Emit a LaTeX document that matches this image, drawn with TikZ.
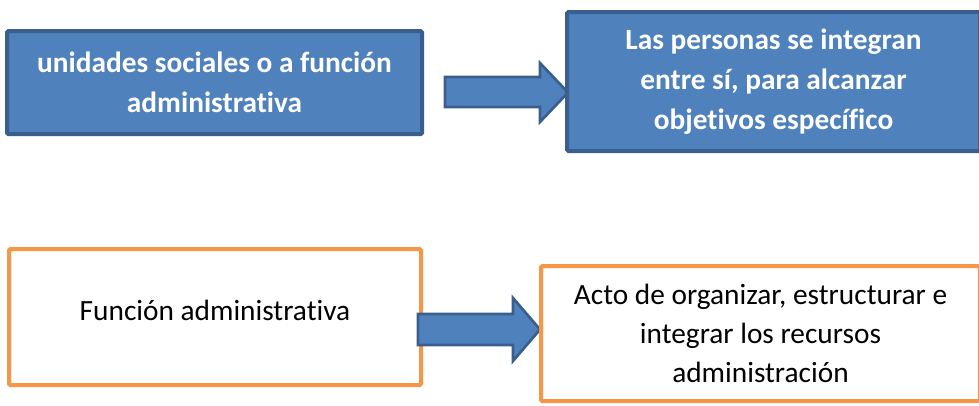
\documentclass[tikz,border=0pt]{standalone}
\usepackage{fontspec}
\setmainfont{Carlito}[Ligatures=NoCommon]
\definecolor{bfill}{HTML}{4F81BD}
\definecolor{bline}{HTML}{3A5F8E}
\definecolor{orng}{HTML}{F79646}
\tikzset{
  bluebox/.style={draw=bline, fill=bfill, line width=3pt, rounded corners=1pt,
    text=white, font=\fontsize{22}{30}\selectfont\bfseries, align=center,
    inner sep=0pt},
  orangebox/.style={draw=orng, fill=white, line width=3pt, rounded corners=1pt,
    text=black, font=\fontsize{22}{29.5}\selectfont, align=center, inner sep=0pt},
  blockarrow/.style={draw=bline, fill=bfill, line width=2pt, line join=miter}
}
\begin{document}
\begin{tikzpicture}[x=0.75pt,y=-0.75pt]
\useasboundingbox (0,0) rectangle (979,405);
\clip (0,0) rectangle (979,405);
% top row
\node[bluebox, minimum width=311.25pt, minimum height=77.25pt] (b1) at (214.5,82.5)
  {unidades sociales o a función\\administrativa};
\draw[blockarrow] (445,77) coordinate (a1s) -- (540,77) -- (540,63) -- (568,92.5) coordinate (a1t)
  -- (540,122) -- (540,107) -- (445,107) -- cycle;
\node[bluebox, minimum width=309.75pt, minimum height=104.25pt] (b2) at (773.5,81.5)
  {Las personas se integran\\entre sí, para alcanzar\\objetivos específico};
% bottom row
\node[orangebox, minimum width=309pt, minimum height=102pt] (b3) at (215,317)
  {\raisebox{10.5pt}{Función administrativa}};
\draw[blockarrow] (418,314) coordinate (a2s) -- (513,314) -- (513,298) -- (540,329.5) coordinate (a2t)
  -- (513,361) -- (513,345) -- (418,345) -- cycle;
\node[orangebox, minimum width=329.25pt, minimum height=101.25pt] (b4) at (760.5,333.5)
  {Acto de organizar, estructurar e\\integrar los recursos\\administración};
\end{tikzpicture}
\end{document}
